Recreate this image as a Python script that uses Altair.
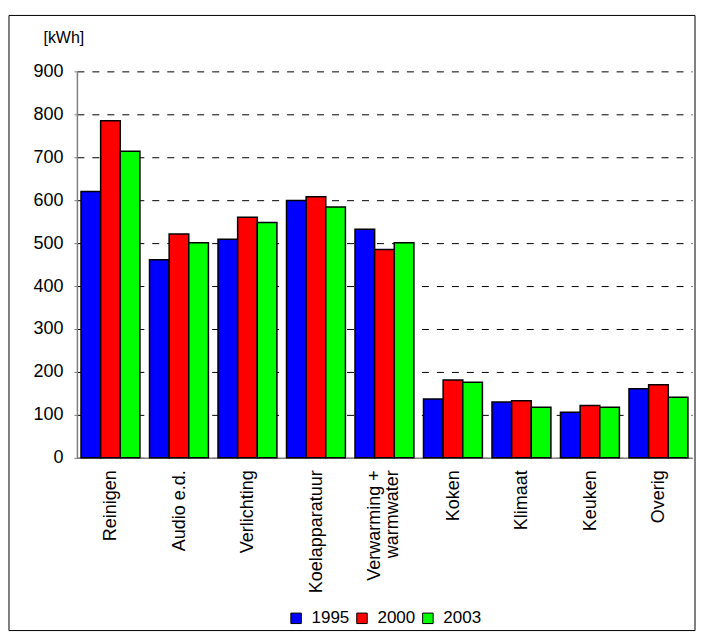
import altair as alt
import pandas as pd

categories = ["Reinigen", "Audio e.d.", "Verlichting", "Koelapparatuur",
              "Verwarming + warmwater", "Koken", "Klimaat", "Keuken", "Overig"]
years = ["1995", "2000", "2003"]
v1995 = [620, 461, 509, 599, 532, 137, 130, 106, 161]
v2000 = [785, 521, 560, 608, 485, 181, 133, 122, 170]
v2003 = [714, 501, 548, 584, 501, 176, 118, 118, 141]
colors = ["#0000FF", "#FF0000", "#00FF00"]
y_ticks = [0, 100, 200, 300, 400, 500, 600, 700, 800, 900]

rows = []
for series, year in zip([v1995, v2000, v2003], years):
    for cat, val in zip(categories, series):
        rows.append({"cat": cat, "year": year, "kwh": val})
df = pd.DataFrame(rows)

FONT = "Liberation Sans"

label_expr = ("datum.label == 'Verwarming + warmwater' ? "
              "['Verwarming +', 'warmwater\u00a0\u00a0'] : datum.label")

bars = alt.Chart(df).mark_bar(stroke="black", strokeWidth=1.5, opacity=1).encode(
    x=alt.X("cat:N", sort=categories,
            scale=alt.Scale(paddingInner=0.14, paddingOuter=0.06),
            axis=alt.Axis(title=None, labelAngle=270, labelFontSize=18,
                          labelColor="black", labelPadding=12, ticks=False,
                          domainColor="#808080", domainWidth=1.5,
                          labelExpr=label_expr, labelLineHeight=18,
                          labelOffset={"condition": {
                              "test": "datum.label == 'Verwarming + warmwater'",
                              "value": -9}, "value": 1},
                          labelFont=FONT)),
    xOffset=alt.XOffset("year:N", sort=years,
                        scale=alt.Scale(paddingInner=0, paddingOuter=0)),
    y=alt.Y("kwh:Q", scale=alt.Scale(domain=[0, 900], nice=False),
            axis=alt.Axis(values=y_ticks, title="[kWh]", titleAngle=0,
                          titleAlign="left", titleBaseline="alphabetic",
                          titleX=-34, titleY=-29, titleFontSize=16,
                          titleFontWeight="normal", titleColor="black",
                          titleFont=FONT,
                          labelFontSize=18, labelColor="black", labelFont=FONT,
                          labelPadding=11, tickSize=3, tickColor="#808080",
                          domainColor="#808080", domainWidth=1.5,
                          grid=True, gridColor="black", gridDash=[7, 8],
                          gridWidth=1)),
    color=alt.Color("year:N", sort=years,
                    scale=alt.Scale(domain=years, range=colors),
                    legend=alt.Legend(orient="none", legendX=211, legendY=539,
                                      direction="horizontal", title=None,
                                      symbolType="square", symbolSize=110,
                                      symbolStrokeColor="black",
                                      symbolStrokeWidth=1, symbolOpacity=1,
                                      labelFontSize=17, labelFont=FONT,
                                      labelColor="black", labelOffset=7,
                                      columnPadding=4, padding=0)),
)

frame = alt.Chart(alt.Data(values=[{"f": 1}])).mark_rect(
    fillOpacity=0, stroke="black", strokeWidth=1
).encode(
    x=alt.value(-68), x2=alt.value(619), y=alt.value(-56), y2=alt.value(560)
)

chart = alt.layer(bars, frame).properties(
    width=616, height=387,
    autosize=alt.AutoSizeParams(type="none"),
    padding={"left": 69, "top": 63, "right": 4, "bottom": 174},
).configure(font=FONT).configure_view(stroke=None)

chart.save("out.html", embed_options={"renderer": "svg", "actions": False})
